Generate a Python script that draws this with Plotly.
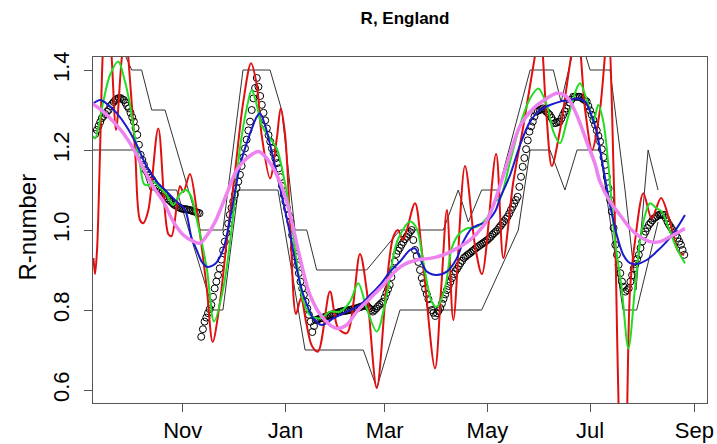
import pandas as pd
import plotly.graph_objects as go

BASE = "2020-09-01"   # day offsets below are counted from this date

# published R range: upper and lower bounds
upper_day = [14.8, 30.7, 36.6, 42.6, 50.5, 71.3, 84.9, 96.8, 112.9, 119.8, 127.7, 134.7, 140.6, 170.3, 190.1,
             215.8, 224.7, 230.7, 238.6, 248.5, 267.4, 281.2, 285.8, 295.9, 303.0, 314.9, 323.8, 330.3, 337.5, 343.4]
upper_r = [1.55, 1.4, 1.4, 1.3, 1.3, 1.0, 1.0, 1.4, 1.4, 1.3, 1.0, 1.0, 0.9, 0.9, 1.0,
           1.0, 1.1, 1.02, 1.1, 1.1, 1.4, 1.4, 1.32, 1.5, 1.4, 1.4, 1.1, 0.85, 1.2, 1.1]
lower_day = [7.0, 33.7, 41.6, 57.4, 79.0, 84.9, 94.0, 117.6, 133.7, 168.3, 176.3, 190.1, 238.6, 260.4, 267.4,
             279.2, 288.1, 295.3, 308.9, 322.6, 330.7, 343.4]
lower_r = [1.2, 1.2, 1.1, 1.1, 0.8, 0.8, 1.1, 1.1, 0.7, 0.7, 0.605, 0.8, 0.8, 1.0, 1.2,
           1.2, 1.1, 1.2, 1.2, 0.8, 0.8, 1.02]

# daily estimate (open circles), first value on day 9
circle_start_day = 9
circle_r = [
    1.24, 1.25, 1.26, 1.27, 1.28, 1.285, 1.29, 1.296, 1.30, 1.31,
    1.315, 1.32, 1.325, 1.328, 1.33, 1.33, 1.327, 1.325, 1.318, 1.31,
    1.304, 1.293, 1.282, 1.271, 1.255, 1.238, 1.213, 1.188, 1.175, 1.163,
    1.15, 1.144, 1.138, 1.131, 1.125, 1.118, 1.111, 1.104, 1.101, 1.099,
    1.096, 1.09, 1.085, 1.079, 1.075, 1.071, 1.067, 1.063, 1.061, 1.058,
    1.056, 1.054, 1.053, 1.052, 1.052, 1.051, 1.05, 1.049, 1.047, 1.046,
    1.045, 1.043, 1.042, 0.733, 0.752, 0.771, 0.781, 0.792, 0.802, 0.813,
    0.833, 0.854, 0.871, 0.887, 0.904, 0.926, 0.949, 0.971, 0.993, 1.016,
    1.038, 1.055, 1.071, 1.088, 1.105, 1.121, 1.138, 1.16, 1.182, 1.204,
    1.226, 1.249, 1.271, 1.30, 1.329, 1.355, 1.38, 1.358, 1.335, 1.313,
    1.293, 1.274, 1.254, 1.237, 1.221, 1.204, 1.192, 1.179, 1.167, 1.154,
    1.132, 1.11, 1.088, 1.071, 1.054, 1.037, 1.02, 0.987, 0.954, 0.933,
    0.912, 0.892, 0.871, 0.854, 0.838, 0.821, 0.804, 0.788, 0.771, 0.745,
    0.76, 0.775, 0.776, 0.778, 0.779, 0.78, 0.782, 0.783, 0.785, 0.786,
    0.788, 0.789, 0.79, 0.792, 0.793, 0.795, 0.796, 0.797, 0.798, 0.798,
    0.799, 0.80, 0.801, 0.802, 0.803, 0.804, 0.805, 0.807, 0.808, 0.81,
    0.811, 0.813, 0.808, 0.804, 0.80, 0.796, 0.80, 0.804, 0.809, 0.813,
    0.817, 0.821, 0.831, 0.842, 0.852, 0.863, 0.882, 0.901, 0.921, 0.94,
    0.948, 0.955, 0.963, 0.97, 0.977, 0.983, 0.99, 0.995, 1.0, 0.975,
    0.95, 0.935, 0.92, 0.90, 0.88, 0.867, 0.853, 0.84, 0.827, 0.813,
    0.80, 0.793, 0.785, 0.792, 0.798, 0.805, 0.816, 0.828, 0.839, 0.85,
    0.86, 0.87, 0.88, 0.89, 0.897, 0.903, 0.91, 0.917, 0.923, 0.93,
    0.933, 0.937, 0.94, 0.943, 0.947, 0.95, 0.954, 0.957, 0.96, 0.963,
    0.966, 0.969, 0.972, 0.975, 0.979, 0.983, 0.988, 0.992, 0.996, 1.0,
    1.006, 1.011, 1.017, 1.022, 1.028, 1.033, 1.041, 1.05, 1.058, 1.066,
    1.075, 1.083, 1.108, 1.133, 1.158, 1.18, 1.202, 1.224, 1.246, 1.259,
    1.271, 1.284, 1.296, 1.298, 1.30, 1.302, 1.304, 1.30, 1.296, 1.292,
    1.288, 1.281, 1.274, 1.267, 1.268, 1.27, 1.271, 1.279, 1.288, 1.296,
    1.304, 1.311, 1.319, 1.326, 1.333, 1.333, 1.333, 1.333, 1.333, 1.33,
    1.327, 1.324, 1.321, 1.31, 1.299, 1.288, 1.275, 1.263, 1.249, 1.235,
    1.221, 1.202, 1.182, 1.163, 1.133, 1.104, 1.075, 1.046, 1.005, 0.963,
    0.938, 0.913, 0.892, 0.871, 0.858, 0.846, 0.85, 0.854, 0.871, 0.887,
    0.904, 0.915, 0.927, 0.938, 0.955, 0.971, 0.988, 0.996, 1.005, 1.013,
    1.018, 1.024, 1.029, 1.032, 1.035, 1.038, 1.038, 1.038, 1.038, 1.03,
    1.021, 1.013, 1.007, 1.0, 0.994, 0.988, 0.98, 0.971, 0.963, 0.95,
    0.938,
]

red_day = [8.0, 8.9, 10.1, 11.9, 13.6, 16.0, 18.8, 21.4, 24.8, 27.3, 28.7, 32.7, 35.6, 37.6, 40.6, 46.5, 52.4,
           54.4, 59.4, 61.4, 65.3, 69.3, 71.3, 75.3, 78.8, 83.1, 87.1, 92.1, 97.0, 101.6, 105.0, 107.9, 112.9,
           116.9, 119.2, 121.8, 124.8, 128.3, 131.3, 134.3, 137.8, 141.4, 148.5, 153.3, 158.6, 166.3, 170.3,
           176.3, 182.2, 186.1, 188.9, 191.9, 199.0, 203.0, 210.9, 214.5, 218.0, 221.8, 228.7, 234.7, 238.8,
           247.2, 251.5, 257.4, 263.4, 269.3, 273.3, 276.9, 280.3, 285.2, 295.3, 300.1, 304.2, 308.9, 313.7,
           317.3, 320.8, 322.6, 324.4, 326.8, 329.7, 334.7, 339.6, 345.2, 350.5, 355.5, 358.9]
red_r = [0.93, 0.89, 0.95, 1.2, 1.45, 1.58, 1.43, 1.25, 1.43, 1.5, 1.43, 1.2, 1.025, 1.017, 1.05, 1.254, 0.99,
         0.985, 1.11, 1.095, 1.14, 1.05, 0.99, 0.854, 0.72, 0.82, 0.97, 1.146, 1.321, 1.417, 1.3625, 1.2375, 1.129,
         1.229, 1.304, 1.24, 1.02, 0.79, 0.83, 0.77, 0.71, 0.696, 0.846, 0.755, 0.742, 0.94, 0.85,
         0.605, 0.867, 0.983, 1.0, 0.975, 1.067, 0.95, 0.654, 0.85, 1.05, 0.775, 1.16, 0.96, 0.89,
         1.19, 0.93, 1.12, 1.26, 1.41, 1.5, 1.3, 1.16, 1.25, 1.5, 1.3, 1.2, 1.3, 1.5,
         1.1, 0.45, 0.35, 0.45, 0.854, 0.971, 1.092, 1.029, 1.08, 1.02, 0.946, 0.9375]

green_day = [7.0, 8.9, 13.8, 17.8, 22.7, 26.7, 29.7, 32.7, 35.6, 38.0, 40.6, 43.5, 46.5, 51.5, 55.4, 59.4, 62.9,
             65.9, 68.9, 75.3, 79.6, 85.1, 90.1, 95.0, 99.0, 102.0, 105.0, 107.9, 112.9, 116.9, 120.8, 124.8,
             128.7, 132.7, 136.6, 142.6, 148.5, 154.5, 160.4, 165.3, 170.3, 176.3, 182.2, 187.1, 190.1, 196.0,
             200.0, 203.9, 208.9, 211.9, 216.8, 220.8, 224.7, 229.7, 235.7, 241.6, 246.6, 249.5, 255.5, 261.4,
             267.4, 272.3, 277.3, 281.2, 285.2, 289.2, 295.1, 297.1, 302.0, 305.0, 307.9, 310.9, 313.9, 317.9,
             321.8, 325.8, 329.7, 332.7, 335.7, 338.6, 342.6, 345.6, 350.5, 354.5, 359.4]
green_r = [1.2375, 1.229, 1.321, 1.3875, 1.421, 1.371, 1.3125, 1.229, 1.165, 1.115, 1.112, 1.121, 1.11, 1.0875,
           1.0625, 1.09, 1.1, 1.085, 1.035, 0.904, 0.771, 0.854, 1.004, 1.204, 1.304, 1.35, 1.3125, 1.2625, 1.229,
           1.204, 1.1375, 1.046, 0.921, 0.821, 0.7875, 0.779, 0.796, 0.796, 0.821, 0.867, 0.804, 0.746, 0.8375,
           0.954, 0.9875, 1.021, 1.004, 0.921, 0.821, 0.808, 0.854, 0.954, 0.9875, 1.004, 1.008, 1.029, 1.071,
           1.079, 1.171, 1.2625, 1.329, 1.354, 1.3125, 1.246, 1.217, 1.271, 1.354, 1.367, 1.3125, 1.271, 1.3125,
           1.271, 1.1625, 0.971, 0.854, 0.704, 0.854, 0.971, 1.0375, 1.067, 1.054, 1.046, 0.996, 0.954, 0.917]

blue_day = [6.9, 11.9, 16.8, 21.8, 27.7, 33.7, 39.6, 45.5, 51.5, 57.4, 62.4, 66.3, 69.3, 72.3, 75.3, 80.2, 85.1,
            90.1, 95.0, 100.0, 105.0, 106.9, 109.9, 114.8, 119.8, 124.8, 128.7, 132.7, 138.6, 143.6, 150.5, 158.4,
            166.3, 172.3, 178.2, 184.2, 190.1, 196.0, 199.0, 202.0, 206.0, 211.9, 217.9, 223.8, 227.7, 232.7,
            236.6, 241.6, 246.6, 249.5, 255.5, 261.4, 267.4, 273.3, 279.2, 285.2, 291.1, 295.1, 300.0, 304.0,
            306.9, 310.9, 314.9, 318.9, 322.8, 326.8, 330.7, 336.7, 342.6, 348.5, 354.5, 359.4]
blue_r = [1.3125, 1.325, 1.3125, 1.292, 1.258, 1.2125, 1.158, 1.121, 1.096, 1.071, 1.05, 0.98, 0.95, 0.921, 0.908,
          0.915, 0.952, 1.05, 1.16, 1.229, 1.283, 1.292, 1.2625, 1.179, 1.0875, 0.99, 0.904, 0.8375, 0.779, 0.7625,
          0.779, 0.796, 0.8125, 0.8375, 0.8625, 0.896, 0.921, 0.95, 0.954, 0.929, 0.896, 0.8875, 0.896, 0.929,
          0.971, 1.004, 1.0125, 1.021, 1.046, 1.079, 1.1375, 1.2125, 1.271, 1.3, 1.3125, 1.321, 1.325, 1.329,
          1.321, 1.285, 1.246, 1.154, 1.0625, 0.9875, 0.9375, 0.917, 0.915, 0.925, 0.946, 0.971, 1.004, 1.0375]

violet_day = [6.9, 13.8, 19.8, 25.7, 31.6, 37.6, 43.5, 49.5, 55.4, 61.4, 67.1, 71.3, 76.0, 81.2, 87.1, 93.1, 99.0,
              105.9, 110.9, 116.9, 122.8, 130.7, 136.6, 144.5, 152.5, 158.4, 164.4, 172.3, 180.2, 187.1, 192.0,
              200.0, 207.9, 215.8, 223.8, 231.7, 239.6, 243.6, 249.5, 255.5, 261.4, 269.3, 277.3, 283.2, 289.2,
              295.1, 301.0, 306.0, 308.9, 314.9, 320.8, 326.8, 332.7, 338.6, 344.6, 350.5, 359.4]
violet_r = [1.317, 1.296, 1.271, 1.242, 1.204, 1.154, 1.108, 1.071, 1.021, 0.9875, 0.972, 0.967, 0.99, 1.029, 1.09,
            1.15, 1.179, 1.196, 1.179, 1.1375, 1.071, 0.93, 0.8375, 0.779, 0.754, 0.7625, 0.796, 0.829, 0.8625,
            0.896, 0.9125, 0.925, 0.929, 0.9375, 0.954, 0.975, 1.01, 1.04, 1.11, 1.19, 1.26, 1.304, 1.329, 1.342,
            1.333, 1.2875, 1.221, 1.165, 1.121, 1.071, 1.0375, 1.004, 0.983, 0.971, 0.971, 0.983, 1.004]

tick_dates = ["2020-11-01", "2021-01-01", "2021-03-01", "2021-05-01", "2021-07-01", "2021-09-01"]
tick_text = ["Nov", "Jan", "Mar", "May", "Jul", "Sep"]
y_ticks = [0.6, 0.8, 1.0, 1.2, 1.4]
y_tick_text = ["0.6", "0.8", "1.0", "1.2", "1.4"]


def to_dates(days):
    return pd.Timestamp(BASE) + pd.to_timedelta(list(days), unit="D")


circle_days = [circle_start_day + i for i in range(len(circle_r))]

FONT = "Liberation Sans, Arial, sans-serif"
fig = go.Figure()

fig.add_trace(go.Scatter(x=to_dates(upper_day), y=upper_r, mode="lines",
                         line=dict(color="#333333", width=1)))
fig.add_trace(go.Scatter(x=to_dates(lower_day), y=lower_r, mode="lines",
                         line=dict(color="#333333", width=1)))
fig.add_trace(go.Scatter(x=to_dates(circle_days), y=circle_r, mode="markers",
                         marker=dict(symbol="circle-open", size=7, color="black", line=dict(width=1))))
fig.add_trace(go.Scatter(x=to_dates(red_day), y=red_r, mode="lines",
                         line=dict(color="#e01010", width=2, shape="spline", smoothing=0.9)))
fig.add_trace(go.Scatter(x=to_dates(green_day), y=green_r, mode="lines",
                         line=dict(color="#22dd22", width=2, shape="spline", smoothing=0.9)))
fig.add_trace(go.Scatter(x=to_dates(blue_day), y=blue_r, mode="lines",
                         line=dict(color="#1a1acc", width=2, shape="spline", smoothing=0.9)))
fig.add_trace(go.Scatter(x=to_dates(violet_day), y=violet_r, mode="lines",
                         line=dict(color="#ee82ee", width=3.5, shape="spline", smoothing=0.9)))

x_start = pd.Timestamp(BASE) + pd.Timedelta(days=7.7)
x_end = pd.Timestamp(BASE) + pd.Timedelta(days=372.5)

fig.update_layout(
    width=717, height=444,
    margin=dict(l=93, r=10, t=57, b=41, autoexpand=False),
    paper_bgcolor="white", plot_bgcolor="white",
    showlegend=False,
    font=dict(family=FONT, color="black"),
    title=dict(text="<b>R, England</b>", x=405 / 717, xref="container", xanchor="center",
               y=1 - 18 / 444, yref="container", yanchor="middle",
               font=dict(size=17, family=FONT, color="black")),
    xaxis=dict(range=[x_start, x_end], tickmode="array", tickvals=tick_dates, ticktext=tick_text,
               automargin=False,
               showgrid=False, zeroline=False, showline=True, mirror=True, linecolor="#555555", linewidth=1,
               ticks="outside", ticklen=8, tickcolor="#555555", tickfont=dict(size=22, family=FONT)),
    yaxis=dict(range=[0.5675, 1.4325], tickmode="array", tickvals=y_ticks, ticktext=y_tick_text,
               automargin=False,
               showgrid=False, zeroline=False, showline=True, mirror=True, linecolor="#555555", linewidth=1,
               ticks="outside", ticklen=8, tickcolor="#555555", tickangle=-90, ticklabelstandoff=6,
               tickfont=dict(size=22, family=FONT)),
    annotations=[dict(text="R-number", xref="paper", yref="paper", x=(28 - 93) / 614, y=0.507,
                      xanchor="center", yanchor="middle", textangle=-90, showarrow=False,
                      font=dict(size=24, family=FONT, color="black"))],
)

fig.write_html("out.html")
